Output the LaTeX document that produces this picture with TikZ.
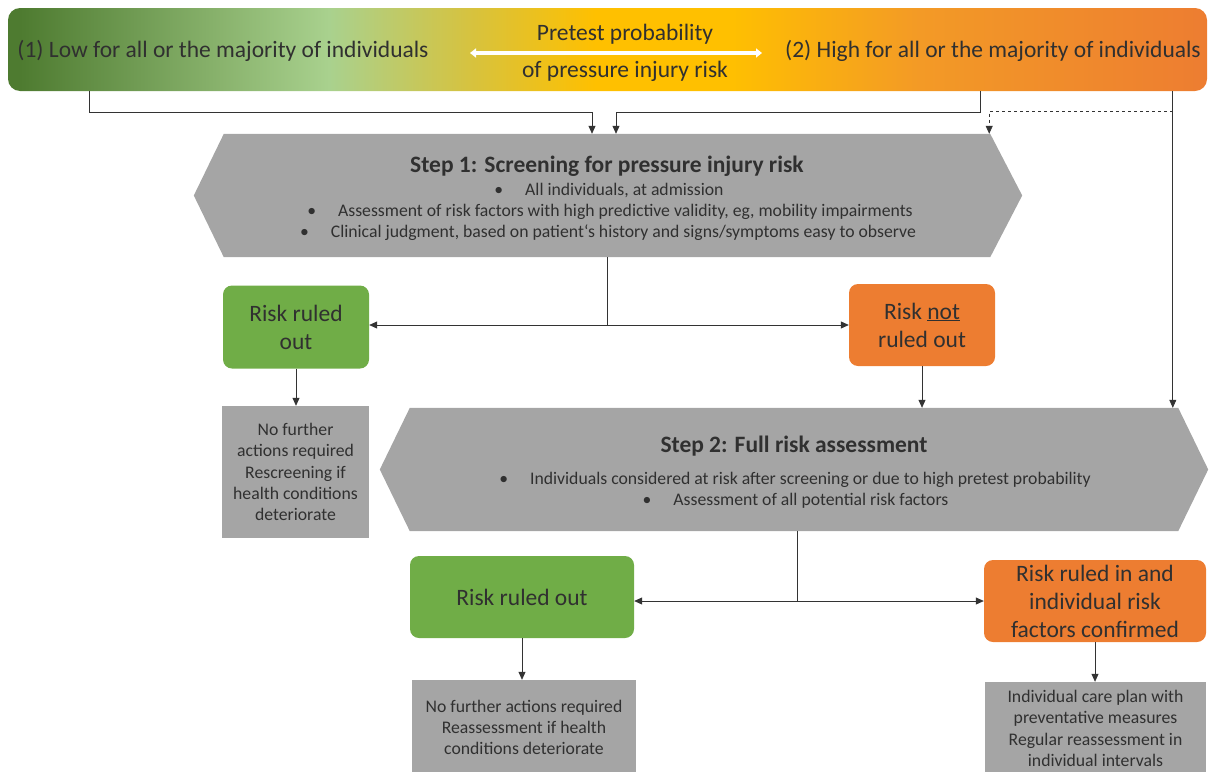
\documentclass[tikz,border=0pt]{standalone}
\usepackage{fontspec}
\setmainfont{Carlito}
\usetikzlibrary{arrows.meta}
\usetikzlibrary{calc}
\usetikzlibrary{backgrounds}

\definecolor{txtgray}{HTML}{303030}
\definecolor{stepgray}{HTML}{A5A5A5}
\definecolor{riskgreen}{HTML}{70AD47}
\definecolor{riskorange}{HTML}{ED7D31}
\definecolor{barA}{HTML}{4E7B30}
\definecolor{barB}{HTML}{A9D18E}
\definecolor{barC}{HTML}{D8C23C}
\definecolor{barD}{HTML}{FFC000}
\definecolor{barE}{HTML}{F39A26}

\pgfdeclarehorizontalshading{pretest}{100bp}{color(0bp)=(barA);
  color(25.5bp)=(barA); color(38.4bp)=(barB); color(44.5bp)=(barC);
  color(49.5bp)=(barD); color(55bp)=(barD); color(63bp)=(barE);
  color(75bp)=(riskorange); color(100bp)=(riskorange)}

\newcommand\bartxt{\fontsize{23.5}{28}\selectfont}
\newcommand\notetxt{\fontsize{17.7}{21.3}\selectfont}

\begin{document}
\begin{tikzpicture}[x = 1pt, y = -1pt,
  bartext/.style = {text = txtgray, font = \bartxt, inner sep = 0},
  box/.style = {rounded corners = 9pt, align = center, text = txtgray,
    font = \bartxt, inner sep = 0},
  greenbox/.style = {box, fill = riskgreen},
  orangebox/.style = {box, fill = riskorange},
  notebox/.style = {fill = stepgray, align = center, text = txtgray,
    font = \notetxt, inner sep = 0},
  stepbox/.style = {minimum height = 123pt, inner sep = 0},
  steptitle/.style = {font = \bartxt\bfseries, text = txtgray, inner sep = 0},
  bullet/.style = {font = \notetxt, text = txtgray, inner sep = 0},
  arr/.style = {-{Triangle[width = 7pt, length = 8pt]}, draw = black!80,
    line width = .8pt}]
  \useasboundingbox (0, 0) rectangle (1209, 771);

  \node (bar) [minimum width = 1199pt, minimum height = 83pt,
    rounded corners = 12pt, shading = pretest, inner sep = 0]
    at (607.5, 49.5) {};
  \node (low) [bartext] at (223, 51)
    {(1) Low for all or the majority of individuals};
  \node (high) [bartext] at (993, 51)
    {(2) High for all or the majority of individuals};
  \node (pt1) [bartext] at (625, 34) {Pretest probability};
  \node (pt2) [bartext] at (625, 71) {of pressure injury risk};
  \coordinate (al) at (470, 53);
  \coordinate (ar) at (762, 53);
  \draw[white, line width = 3.5pt,
    {Triangle[width = 9pt, length = 6pt]}-{Triangle[width = 9pt, length = 6pt]}]
    (al) -- (ar);

  \node (s1) [stepbox, minimum width = 766pt] at (607, 195.5) {};
  \node (s1t) [steptitle] at (607, 166)
    {Step 1: Screening for pressure injury risk};
  \node (s1a) [bullet] at (609, 190)
    {\textbullet\hspace{22pt}All individuals, at admission};
  \node (s1b) [bullet] at (610, 212)
    {\textbullet\hspace{22pt}Assessment of risk factors with high predictive
    validity, eg, mobility impairments};
  \node (s1c) [bullet] at (608, 233)
    {\textbullet\hspace{22pt}Clinical judgment, based on patient‘s history and
    signs/symptoms easy to observe};

  \node (r1) [greenbox, minimum width = 146pt, minimum height = 83pt]
    at (296, 327) {Risk ruled\\out};
  \node (n1) [orangebox, minimum width = 146pt, minimum height = 82pt]
    at (922, 325) {Risk \underline{not}\\ruled out};
  \node (g1) [notebox, minimum width = 147pt, minimum height = 132pt]
    at (295.5, 472) {No further\\actions required\\Rescreening if\\health
    conditions\\deteriorate};

  \node (s2) [stepbox, minimum width = 768pt] at (794, 469.5) {};
  \node (s2t) [steptitle] at (794, 446) {Step 2: Full risk assessment};
  \node (s2a) [bullet] at (795, 480)
    {\textbullet\hspace{22pt}Individuals considered at risk after screening or
    due to high pretest probability};
  \node (s2b) [bullet] at (795.5, 501)
    {\textbullet\hspace{22pt}Assessment of all potential risk factors};

  \node (r2) [greenbox, minimum width = 224pt, minimum height = 82pt]
    at (522, 597) {Risk ruled out};
  \node (n2) [orangebox, minimum width = 222pt, minimum height = 82pt]
    at (1095, 601) {Risk ruled in and\\individual risk\\factors confirmed};
  \node (g2) [notebox, minimum width = 224pt, minimum height = 95pt]
    at (524, 727.5) {No further actions required\\Reassessment if
    health\\conditions deteriorate};
  \node (g3) [notebox, minimum width = 221pt, minimum height = 93pt]
    at (1095.5, 728.5) {Individual care plan with\\preventative
    measures\\Regular reassessment in\\individual intervals};

  \begin{scope}[on background layer]
    \fill[stepgray] (s1.north west) -- (s1.north east) --
    ($(s1.east) + (32, 0)$) -- (s1.south east) -- (s1.south west) --
    ($(s1.west) + (-30, 0)$) -- cycle;
    \fill[stepgray] (s2.north west) -- (s2.north east) --
    ($(s2.east) + (30, 0)$) -- (s2.south east) -- (s2.south west) --
    ($(s2.west) + (-30, 0)$) -- cycle;
  \end{scope}

  \coordinate (lowout) at ($(bar.south west) + (82, 0)$);
  \coordinate (highout) at ($(bar.south west) + (973, 0)$);
  \coordinate (allout) at ($(bar.south west) + (1165, 0)$);
  \draw[arr] (lowout) -- ++(0, 21) -| ($(s1.north) + (-15, 0)$);
  \draw[arr] (highout) -- ++(0, 21) -| ($(s1.north) + (9, 0)$);
  \draw[arr] (allout) -- (allout |- s2.north);
  \draw[arr, dashed, line width = .6pt] ($(allout) + (0, 20)$) -|
  ($(s1.north east) + (-1, 0)$);

  \draw[draw = black!80, line width = .8pt] (s1.south) --
  (s1.south |- n1.west) coordinate (j1);
  \draw[arr] (j1) -- (n1.west);
  \draw[arr] (j1) -- (r1.east |- j1);
  \draw[arr] (r1.south) -- (r1.south |- g1.north);
  \draw[arr] (n1.south) -- (n1.south |- s2.north);

  \coordinate (s2out) at ($(s2.south) + (3, 0)$);
  \draw[draw = black!80, line width = .8pt] (s2out) --
  (s2out |- n2.west) coordinate (j2);
  \draw[arr] (j2) -- (n2.west |- j2);
  \draw[arr] (j2) -- (r2.east |- j2);
  \draw[arr] (r2.south) -- (r2.south |- g2.north);
  \draw[arr] (n2.south) -- (n2.south |- g3.north);
\end{tikzpicture}
\end{document}
